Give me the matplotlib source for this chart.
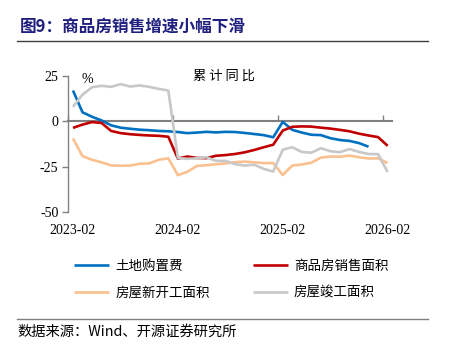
import numpy as np
import matplotlib
matplotlib.use('Agg')
import matplotlib.pyplot as plt
from matplotlib.lines import Line2D

plt.rcParams['font.family'] = ['Noto Sans CJK SC', 'DejaVu Sans']

months = [f"{y}-{m:02d}" for y in (2023, 2024, 2025) for m in range(2, 13)] + ["2026-02"]
tick_labels = ["2023-02", "2024-02", "2025-02", "2026-02"]
y_ticks = [25, 0, -25, -50]

nan = np.nan
land = [17.0, 5.0, 2.5, 0.5, -2.2, -3.5, -4.1, -4.6, -4.9, -5.3, -5.5,
        -5.9, -6.5, -6.2, -5.8, -6.1, -5.8, -5.9, -6.4, -7.0, -7.6, -8.8,
        -0.3, -4.7, -6.2, -7.4, -7.6, -9.3, -10.3, -10.8, -12.0, -14.0, nan,
        nan]
sales = [-3.6, -1.8, -0.4, -0.9, -5.3, -6.5, -7.1, -7.5, -7.8, -8.0, -8.5,
         -20.5, -19.4, -20.2, -20.3, -19.0, -18.6, -18.0, -17.1, -15.8, -14.3, -12.9,
         -5.1, -3.0, -2.8, -2.9, -3.5, -4.0, -4.7, -5.5, -6.8, -7.8, -8.7,
         -13.5]
starts = [-9.4, -19.2, -21.2, -22.6, -24.3, -24.5, -24.4, -23.4, -23.2, -21.2, -20.4,
          -29.7, -27.8, -24.6, -24.2, -23.7, -23.2, -22.5, -22.2, -22.6, -23.0, -23.0,
          -29.6, -24.4, -23.8, -22.8, -20.0, -19.4, -19.5, -18.9, -19.8, -20.5, -20.4,
          -23.0]
completed = [8.0, 14.7, 18.8, 19.6, 19.0, 20.5, 19.2, 19.8, 19.0, 17.9, 17.0,
             -20.2, -20.7, -20.4, -19.8, -21.8, -21.8, -23.6, -24.4, -23.9, -26.2, -27.7,
             -15.6, -14.3, -16.9, -17.3, -14.8, -16.5, -17.0, -15.3, -16.9, -18.0, -18.1,
             -28.0]

names = ["土地购置费", "商品房销售面积", "房屋新开工面积", "房屋竣工面积"]
colors = ["#0070C0", "#C00000", "#FAC090", "#C8C8C8"]

fig = plt.figure(figsize=(4.5, 3.54), dpi=100)
ax = fig.add_axes([68.2 / 450, 1 - 212 / 354, (392.4 - 68.2) / 450, (212 - 76) / 354])
x = np.arange(len(months))
lines = []
for vals, name, c in zip([land, sales, starts, completed], names, colors):
    ln, = ax.plot(x, vals, color=c, lw=1.9, zorder=3, label=name, solid_capstyle='butt')
    lines.append(ln)

ax.set_xlim(-0.5, len(months) - 0.5)
ax.set_ylim(-50, 25)
ax.set_yticks(y_ticks)
ax.set_yticklabels([str(v) for v in y_ticks], family='Liberation Serif', fontsize=10)
for s in ['top', 'right']:
    ax.spines[s].set_visible(False)
ax.spines['left'].set_color('#808080')
ax.spines['left'].set_linewidth(1.0)
ax.spines['bottom'].set_position(('data', 0))
ax.spines['bottom'].set_color('#808080')
ax.spines['bottom'].set_linewidth(1.5)
boundaries = [months.index(t) - 0.5 for t in tick_labels]
ax.set_xticks(boundaries)
ax.set_xticklabels([])
ax.tick_params(axis='x', direction='in', length=4, color='#808080', width=1)
ax.tick_params(axis='y', direction='out', length=4, color='#808080', width=1, pad=3)

sec = ax.secondary_xaxis('bottom')
sec.set_xticks([months.index(t) for t in tick_labels], labels=tick_labels)
sec.tick_params(length=0, pad=9, labelsize=10)
sec.spines['bottom'].set_visible(False)
for lab in sec.get_xticklabels():
    lab.set_family('Liberation Serif')

ax.text(0.04, 1.02, "%", transform=ax.transAxes, family='Liberation Serif',
        fontsize=10, ha='left', va='top')
ax.text(0.48, 1.045, "累 计 同 比", transform=ax.transAxes, fontsize=9.5,
        ha='center', va='top')

fig.text(20 / 450, 1 - 27 / 354, "图9：商品房销售增速小幅下滑", fontsize=12,
         fontweight='bold', color='#1F1F7F', ha='left', va='center')
fig.add_artist(Line2D([17 / 450, 428 / 450], [1 - 41 / 354] * 2,
                      transform=fig.transFigure, color='#404040', lw=1))
fig.add_artist(Line2D([17 / 450, 428 / 450], [1 - 319 / 354] * 2,
                      transform=fig.transFigure, color='#808080', lw=1))
fig.text(17 / 450, 1 - 332 / 354, "数据来源：Wind、开源证券研究所", fontsize=10.3,
         ha='left', va='center')

handles = [lines[0], lines[2], lines[1], lines[3]]
fig.legend(handles=handles, labels=[h.get_label() for h in handles], ncol=2,
           loc='upper left', bbox_to_anchor=(74 / 450, 1 - 259 / 354), frameon=False,
           fontsize=9.7, handlelength=2.6, handletextpad=0.45, columnspacing=3.2,
           labelspacing=0.95, borderpad=0, borderaxespad=0)

fig.savefig("out.png", dpi=100)
